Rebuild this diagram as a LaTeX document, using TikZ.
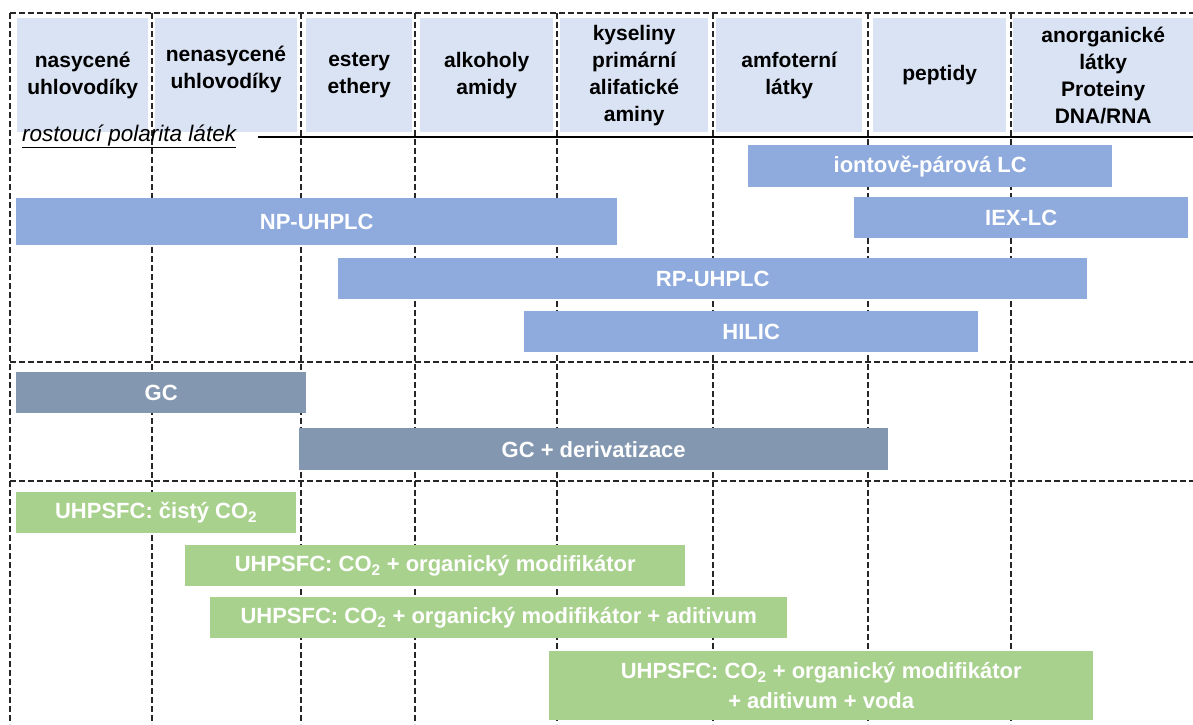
\documentclass[tikz,border=0pt]{standalone}
\usepackage{fontspec}
\setmainfont{Liberation Sans}
\definecolor{headblue}{RGB}{218,227,243}
\definecolor{lcblue}{RGB}{143,170,220}
\definecolor{gcgray}{RGB}{132,151,176}
\definecolor{sfcgreen}{RGB}{169,209,142}
\tikzset{
  gridline/.style={dash pattern=on 5.5pt off 3.5pt, line width=1.2pt, black!85},
  headfont/.style={align=center, text=black, font=\fontsize{21}{27}\selectfont\bfseries},
  headbox/.style={fill=headblue, inner sep=0pt, anchor=north west, headfont},
  barbox/.style={inner sep=0pt, anchor=north west, align=center, text=white,
    font=\fontsize{22}{30}\selectfont\bfseries},
  lcbar/.style={barbox, fill=lcblue},
  gcbar/.style={barbox, fill=gcgray},
  sfcbar/.style={barbox, fill=sfcgreen}
}
\begin{document}
\begin{tikzpicture}[x=1pt,y=-1pt]
\useasboundingbox (0,0) rectangle (1193,724);
% grid
\draw[gridline] (10,13) -- (1193,13);
\draw[gridline] (10,362) -- (1193,362);
\draw[gridline] (10,481) -- (1193,481);
\foreach \xx in {10,152,301,415,557,713,868,1011}
  \draw[gridline] (\xx,13) -- (\xx,724);
% header boxes
\node[headbox, minimum width=131pt, minimum height=114pt] (h1) at (17,18) {nasycené\\uhlovodíky};
\node[headbox, minimum width=142pt, minimum height=114pt] (h2) at (155,18) {};
\node[headfont, inner sep=0pt] (h2t) at (226,69) {nenasycené\\uhlovodíky};
\node[headbox, minimum width=106pt, minimum height=114pt] (h3) at (306,18) {estery\\ethery};
\node[headbox, minimum width=133pt, minimum height=114pt] (h4) at (420,18) {alkoholy\\amidy};
\node[headbox, minimum width=148pt, minimum height=114pt] (h5) at (560,18) {kyseliny\\primární\\alifatické\\aminy};
\node[headbox, minimum width=146pt, minimum height=114pt] (h6) at (716,18) {amfoterní\\látky};
\node[headbox, minimum width=133pt, minimum height=114pt] (h7) at (873,18) {peptidy};
\node[headbox, minimum width=180pt, minimum height=114pt] (h8) at (1013,18) {anorganické\\látky\\Proteiny\\DNA/RNA};
% polarity
\node[anchor=base west, inner sep=0pt, font=\fontsize{22.5}{26}\selectfont\itshape] (pol) at (22,141) {\underline{rostoucí polarita látek}};
\coordinate (polend) at (1193,137);
\draw[line width=1.3pt] (258,137) -- (polend);
% LC bars
\node[lcbar, minimum width=364pt, minimum height=42pt] (ion) at (748,145) {iontově-párová LC};
\node[lcbar, minimum width=601pt, minimum height=47pt] (np) at (16,198) {NP-UHPLC};
\node[lcbar, minimum width=334pt, minimum height=41pt] (iex) at (854,197) {IEX-LC};
\node[lcbar, minimum width=749pt, minimum height=41pt] (rp) at (338,258) {RP-UHPLC};
\node[lcbar, minimum width=454pt, minimum height=41pt] (hilic) at (524,311) {HILIC};
% GC bars
\node[gcbar, minimum width=290pt, minimum height=41pt] (gc) at (16,372) {GC};
\node[gcbar, minimum width=589pt, minimum height=42pt] (gcd) at (299,428) {GC + derivatizace};
% SFC bars
\node[sfcbar, minimum width=280pt, minimum height=41pt] (sfc1) at (16,492) {UHPSFC: čistý CO\textsubscript{2}};
\node[sfcbar, minimum width=500pt, minimum height=41pt] (sfc2) at (185,545) {UHPSFC: CO\textsubscript{2} + organický modifikátor};
\node[sfcbar, minimum width=577pt, minimum height=41pt] (sfc3) at (210,597) {UHPSFC: CO\textsubscript{2} + organický modifikátor + aditivum};
\node[sfcbar, minimum width=544pt, minimum height=69pt] (sfc4) at (549,651) {UHPSFC: CO\textsubscript{2} + organický modifikátor\\+ aditivum + voda};
\end{tikzpicture}
\end{document}
